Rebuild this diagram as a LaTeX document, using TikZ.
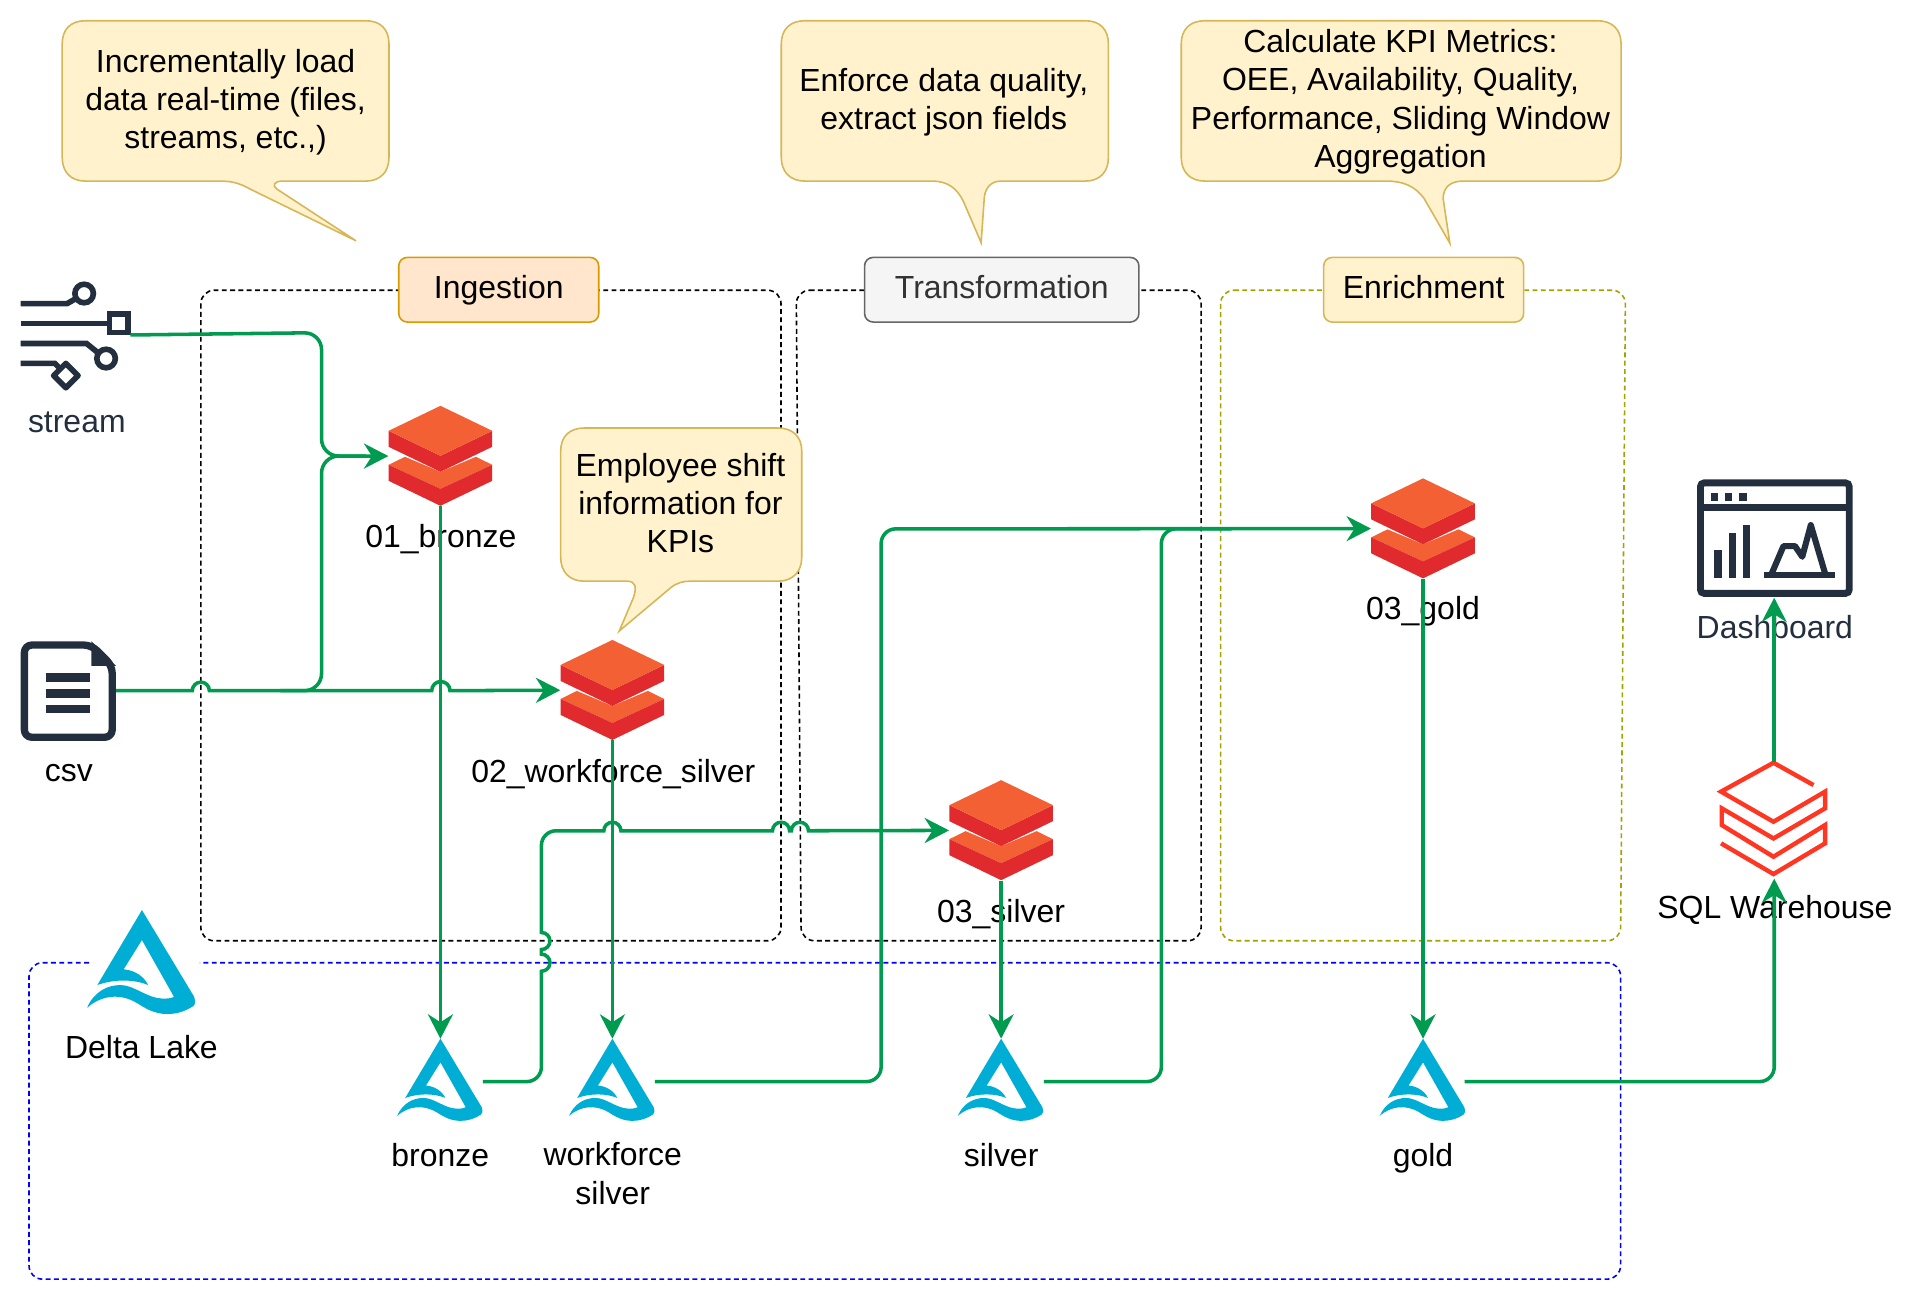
\documentclass[tikz,border=0pt]{standalone}
\usepackage{fontspec}
\setmainfont{Liberation Sans}
\usetikzlibrary{arrows.meta}
\definecolor{connc}{HTML}{009B4F}
\definecolor{aws}{HTML}{232F3E}
\definecolor{dborange}{HTML}{F26033}
\definecolor{dbred}{HTML}{E12A2E}
\definecolor{sqlred}{HTML}{FF3621}
\definecolor{deltablue}{HTML}{00ADD4}
\definecolor{noteF}{HTML}{FFF2CC}
\definecolor{noteS}{HTML}{D6B656}
\definecolor{oliveS}{HTML}{A3A300}
\definecolor{ingF}{HTML}{FFE6CC}
\definecolor{ingS}{HTML}{D79B00}
\definecolor{traF}{HTML}{F5F5F5}
\definecolor{traS}{HTML}{666666}
\definecolor{traT}{HTML}{333333}
\tikzset{
  txt/.style={inner sep=0pt,align=center,font=\fontsize{26.2}{31.4}\selectfont},
  conn/.style={draw=connc,line width=2.9pt,-{Stealth[length=20pt,width=20.5pt,inset=6.5pt]}},
  connplain/.style={draw=connc,line width=2.9pt},
  zone/.style={line width=1.3pt,dash pattern=on 4pt off 2.8pt,rounded corners=11pt},
  note/.style={draw=noteS,fill=noteF,line width=1.3pt},
  tag/.style={inner sep=0pt,font=\fontsize{26.2}{31.4}\selectfont,text height=20pt,text depth=5.6pt,rounded corners=7pt,line width=1.3pt,minimum height=53pt},
  dbbox/.style={inner sep=0pt,minimum width=85pt,minimum height=82pt},
  dlbox/.style={inner sep=0pt,minimum width=70pt,minimum height=68pt},
  dbicon/.pic={
    \fill[dborange] (-51.8,59)--(-35.5,51)--(0,66)--(35.5,51)--(51.8,59)--(0,83)--cycle;
    \fill[dbred] (-51.8,59)--(0,83)--(51.8,59)--(51.8,75)--(0,100)--(-51.8,75)--cycle;
    \fill[dbred] (-51.8,25)--(0,50)--(51.8,25)--(51.8,41)--(0,66)--(-51.8,41)--cycle;
    \fill[dborange] (0,0)--(51.8,25)--(0,50)--(-51.8,25)--cycle;
  },
  deltaicon/.pic={
    \fill[deltablue] (0,0) -- (52.2,86.7) .. controls (54,92) and (53,95) .. (51.3,96)
      .. controls (44,101) and (35,104) .. (25.4,104)
      .. controls (12,104) and (3,98) .. (-5,93)
      .. controls (-22,83) and (-40,85) .. (-54.9,97.7)
      .. controls (-48,82) and (-35,75) .. (-21.4,75)
      .. controls (-8,75) and (5,88) .. (20,88.5)
      .. controls (26,88.8) and (30,88) .. (32,86.7)
      -- (0,30) -- (-18.3,59.3)
      .. controls (-8,60) and (2,66) .. (6.2,75)
      .. controls (-8,69) and (-28,69) .. (-44.6,75) -- cycle;
  },
}
\begin{document}
\begin{tikzpicture}[x=1pt,y=-1pt]
\useasboundingbox (0,0) rectangle (1568,1069);

% zones
\draw[zone,black] (164.7,238) rectangle (640.5,771.5);
\draw[zone,black] (653,238) -- (985,238) -- (985,771.5) -- (657,771.5) -- cycle;
\draw[zone,oliveS] (1001,238) -- (1333,238) -- (1329,771.5) -- (1001,771.5) -- cycle;
\draw[zone,blue] (73,789.5) -- (23.8,789.5) -- (23.8,1049) -- (1329,1049) -- (1329,789.5) -- (164,789.5);

% zone tags
\node[tag,draw=ingS,fill=ingF,minimum width=164pt] (tagIng) at (409,237.6) {Ingestion};
\node[tag,draw=traS,fill=traF,text=traT,minimum width=225pt] (tagTra) at (821.5,237.6) {Transformation};
\node[tag,draw=noteS,fill=noteF,minimum width=164pt] (tagEnr) at (1167.5,237.6) {Enrichment};

% callouts
\draw[note] (70,17) -- (300,17) .. controls (312,17) and (319,24) .. (319,36)
  -- (319,129) .. controls (319,141) and (312,148.5) .. (300,148.5)
  -- (230.7,148.5) .. controls (225,149) and (223,152) .. (227,155)
  -- (292,197.5) -- (205,155) .. controls (196,150) and (190,148.5) .. (180,148.5)
  -- (70,148.5) .. controls (58,148.5) and (51,141) .. (51,129)
  -- (51,36) .. controls (51,24) and (58,17) .. (70,17) -- cycle;
\node[txt] (note1) at (185,84) {Incrementally load\\data real-time (files,\\streams, etc.,)};

\draw[note] (660,17) -- (890,17) .. controls (902,17) and (909,24) .. (909,36)
  -- (909,129) .. controls (909,141) and (902,148.5) .. (890,148.5)
  -- (821,148.5) .. controls (812,148.5) and (807,155) .. (807,165)
  -- (804.6,199) -- (790,165) .. controls (785,155) and (778,148.5) .. (764,148.5)
  -- (660,148.5) .. controls (648,148.5) and (640.7,141) .. (640.7,129)
  -- (640.7,36) .. controls (640.7,24) and (648,17) .. (660,17) -- cycle;
\node[txt] (note2) at (774,84) {Enforce data quality,\\extract json fields};

\draw[note] (988,17) -- (1310,17) .. controls (1322,17) and (1329.4,24) .. (1329.4,36)
  -- (1329.4,129) .. controls (1329.4,141) and (1322,148.5) .. (1310,148.5)
  -- (1200,148.5) .. controls (1190,148.5) and (1183.5,153) .. (1183.5,163)
  -- (1189,199.5) -- (1168,163) .. controls (1160,152) and (1150,148.5) .. (1136.6,148.5)
  -- (988,148.5) .. controls (976,148.5) and (968.7,141) .. (968.7,129)
  -- (968.7,36) .. controls (968.7,24) and (976,17) .. (988,17) -- cycle;
\node[txt] (note3) at (1148.5,83.5) {Calculate KPI Metrics:\\OEE, Availability, Quality,\\Performance, Sliding Window\\Aggregation};

\draw[note] (479,351) -- (638,351) .. controls (650,351) and (657.5,358) .. (657.5,370)
  -- (657.5,457) .. controls (657.5,469) and (650,476.6) .. (638,476.6)
  -- (566,476.6) .. controls (560,476.6) and (555,478) .. (550,482)
  -- (507.8,517.5) -- (519.5,490) .. controls (522,482) and (522,476.6) .. (514,476.6)
  -- (479,476.6) .. controls (467,476.6) and (459.8,469) .. (459.8,457)
  -- (459.8,370) .. controls (459.8,358) and (467,351) .. (479,351) -- cycle;
\node[txt] (note4) at (558,412.5) {Employee shift\\information for\\KPIs};

% stream icon
\begin{scope}[draw=aws,line width=4.6pt]
  \draw (17,249) -- (55,249) -- (62,245);
  \draw (69,240.7) circle[radius=7.6];
  \draw (17,265.4) -- (90,265.4);
  \draw[line width=4.4pt] (90,257.4) rectangle (105,272.8);
  \draw (17,281.7) -- (71,281.7) -- (80,289);
  \draw (87,294) circle[radius=7.6];
  \draw (17,298) -- (45,298) -- (49,302);
  \draw[line join=round] (54,298) -- (64,308) -- (54,318) -- (44,308) -- cycle;
\end{scope}
\node[txt,text=aws] (streamlabel) at (63,346.5) {stream};
\coordinate (streamout) at (107,274.7);

% csv icon
\draw[aws,line width=6pt,line join=round,rounded corners=6pt] (75,529) -- (20,529) -- (20,604.6) -- (92,604.6) -- (92,546) -- cycle;
\fill[aws] (75,526) -- (95,546) -- (75,546) -- cycle;
\fill[aws] (38,552) rectangle (74,559);
\fill[aws] (38,565) rectangle (74,572);
\fill[aws] (38,578) rectangle (74,585);
\node[inner sep=0pt,minimum width=78pt,minimum height=82pt] (csv) at (56,566.4) {};
\node[txt] (csvlabel) at (56.5,634) {csv};

% Databricks solid icons
\node[dbbox] (b01) at (361.2,374) {};
\node[dbbox] (w02) at (502.2,566) {};
\node[dbbox] (s03) at (821,681) {};
\node[dbbox] (g03) at (1167,433.5) {};
\foreach \n in {b01,w02,s03,g03} \pic[scale=.82] at (\n.north) {dbicon};
\node[txt] (b01label) at (361.5,442.5) {01\_bronze};
\node[txt] (w02label) at (503,634.5) {02\_workforce\_silver};
\node[txt] (s03label) at (821,749.5) {03\_silver};
\node[txt] (g03label) at (1167,501.5) {03\_gold};

% Delta Lake icons
\pic[scale=.82] at (116.4,746.3) {deltaicon};
\node[txt] (deltalabel) at (116,858.5) {Delta Lake};
\node[dlbox] (bronze) at (361.2,886) {};
\node[dlbox] (wsilver) at (502.2,886) {};
\node[dlbox] (silver) at (821,886) {};
\node[dlbox] (gold) at (1167,886) {};
\foreach \n in {bronze,wsilver,silver,gold} \pic[scale=.648] at (\n.north) {deltaicon};
\node[txt] (bronzelabel) at (361,947.5) {bronze};
\node[txt,anchor=north] (wsilverlabel) at (502.5,937) {workforce\\silver};
\node[txt] (silverlabel) at (821,947.5) {silver};
\node[txt] (goldlabel) at (1167,949.5) {gold};
\coordinate (bronzeout) at (396,887);
\coordinate (wsilverout) at (537,887);
\coordinate (silverout) at (856,887);
\coordinate (goldout) at (1201,887);

% SQL warehouse icon
\node[inner sep=0pt,minimum width=85pt,minimum height=92pt] (sql) at (1454.4,671) {};
\draw[sqlred,line width=3.6pt,miter limit=6]
  (1487.2,643.8) -- (1454.4,625.5) -- (1411.4,649.2) -- (1454.4,673.9) -- (1496.7,649.2) -- (1496.7,662.9)
  -- (1454.4,687.6) -- (1412,662.9) -- (1412,676.6) -- (1454.4,702.6) -- (1496.7,676.6) -- (1496.7,691.6)
  -- (1454.4,716.8) -- (1411.4,691.6);
\node[txt] (sqllabel) at (1455.5,746) {SQL Warehouse};

% dashboard icon
\node[inner sep=0pt,minimum width=128pt,minimum height=97pt] (dashb) at (1455.5,441.5) {};
\draw[aws,line width=5.6pt,rounded corners=3pt] (1394.5,396) rectangle (1516.5,486.6);
\draw[aws,line width=5.2pt] (1394.5,416.1) -- (1516.5,416.1);
\fill[aws] (1403,404.6) rectangle (1409,410.6);
\fill[aws] (1414.7,404.6) rectangle (1420.7,410.6);
\fill[aws] (1426.5,404.6) rectangle (1432.5,410.6);
\fill[aws] (1405.7,451) rectangle (1412,474.3);
\fill[aws] (1417.5,436.9) rectangle (1423.7,474.3);
\fill[aws] (1429.2,430.9) rectangle (1435.2,474.3);
\fill[aws] (1446.7,468.9) rectangle (1505,474.3);
\draw[aws,line width=5pt,line join=round] (1453,470.2) -- (1462.6,447.8) -- (1472,447.8) -- (1478,456.6) -- (1485,430.6) -- (1496.7,470.2);
\node[txt,text=aws] (dashlabel) at (1455.5,514.5) {Dashboard};

% connectors
\draw[conn] (streamout) [rounded corners=14pt] -- (263.7,272.8) -- (263.7,374) -- (b01.west);
\draw[conn] (csv.east) -- (157.7,566.4) arc[start angle=180,end angle=360,radius=7]
  -- (354,566.4) arc[start angle=180,end angle=360,radius=7.5] -- (w02.west);
\draw[connplain,rounded corners=14pt] (230,566.4) -- (263.7,566.4) -- (263.7,374) -- (300,374);
\draw[conn] (b01.south) -- (bronze.north);
\draw[conn] (w02.south) -- (wsilver.north);
\draw[conn] (s03.south) -- (silver.north);
\draw[conn] (g03.south) -- (gold.north);
\draw[conn] (bronzeout) -- (432,887) arc[start angle=90,end angle=0,radius=12] -- (444,796.5)
  arc[start angle=90,end angle=-90,radius=7] -- (444,778.7)
  arc[start angle=90,end angle=-90,radius=7] -- (444,693.3)
  arc[start angle=180,end angle=270,radius=12]
  -- (495.2,681.3) arc[start angle=180,end angle=360,radius=7]
  -- (633.5,681.3) arc[start angle=180,end angle=360,radius=7]
  -- (649,681.3) arc[start angle=180,end angle=360,radius=7]
  -- (s03.west);
\draw[conn,rounded corners=12pt] (wsilverout) -- (722.6,887) -- (722.6,433.7) -- (g03.west);
\draw[connplain,rounded corners=12pt] (silverout) -- (952.4,887) -- (952.4,433.7) -- (1010,433.7);
\draw[conn,rounded corners=12pt] (goldout) -- (1455,887) -- (1455,720.5);
\draw[conn] ([xshift=0.6pt]sql.north) -- ([xshift=-0.5pt]dashb.south);
\end{tikzpicture}
\end{document}
